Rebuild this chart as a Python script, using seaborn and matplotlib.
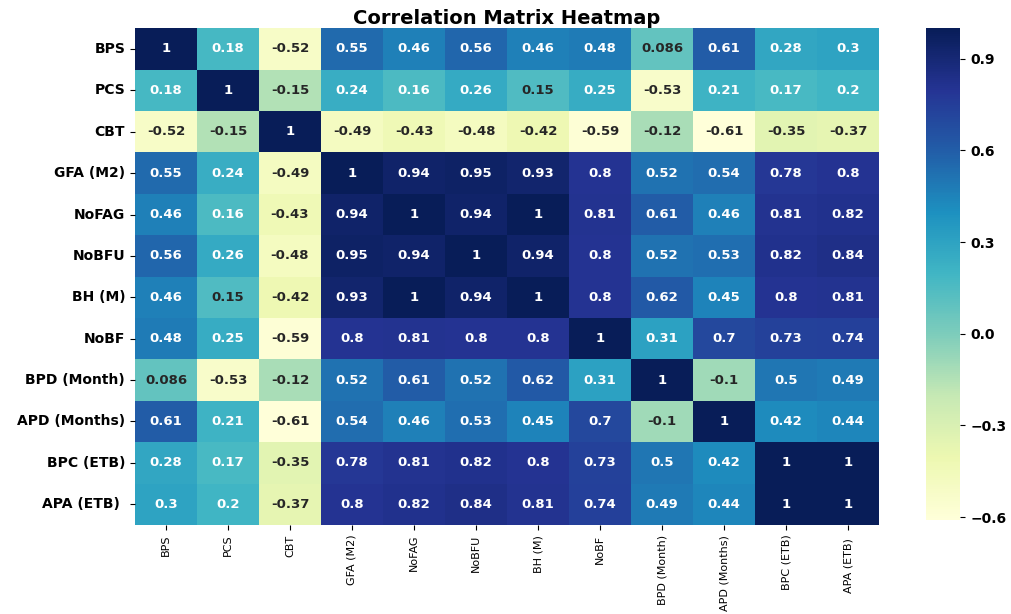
import numpy as np
import pandas as pd
import seaborn as sns
import matplotlib.pyplot as plt
from matplotlib.ticker import MultipleLocator

# Emrat e variablave
labels = ['BPS', 'PCS', 'CBT', 'GFA (M2)', 'NoFAG', 'NoBFU', 'BH (M)', 'NoBF',
          'BPD (Month)', 'APD (Months)', 'BPC (ETB)', 'APA (ETB) ']

# Rreshtat e matricës së korrelacionit
row_bps = [1, 0.18, -0.52, 0.55, 0.46, 0.56, 0.46, 0.48, 0.086, 0.61, 0.28, 0.3]
row_pcs = [0.18, 1, -0.15, 0.24, 0.16, 0.26, 0.15, 0.25, -0.53, 0.21, 0.17, 0.2]
row_cbt = [-0.52, -0.15, 1, -0.49, -0.43, -0.48, -0.42, -0.59, -0.12, -0.61, -0.35, -0.37]
row_gfa = [0.55, 0.24, -0.49, 1, 0.94, 0.95, 0.93, 0.8, 0.52, 0.54, 0.78, 0.8]
row_nofag = [0.46, 0.16, -0.43, 0.94, 1, 0.94, 1, 0.81, 0.61, 0.46, 0.81, 0.82]
row_nobfu = [0.56, 0.26, -0.48, 0.95, 0.94, 1, 0.94, 0.8, 0.52, 0.53, 0.82, 0.84]
row_bh = [0.46, 0.15, -0.42, 0.93, 1, 0.94, 1, 0.8, 0.62, 0.45, 0.8, 0.81]
row_nobf = [0.48, 0.25, -0.59, 0.8, 0.81, 0.8, 0.8, 1, 0.31, 0.7, 0.73, 0.74]
row_bpd = [0.086, -0.53, -0.12, 0.52, 0.61, 0.52, 0.62, 0.31, 1, -0.1, 0.5, 0.49]
row_apd = [0.61, 0.21, -0.61, 0.54, 0.46, 0.53, 0.45, 0.7, -0.1, 1, 0.42, 0.44]
row_bpc = [0.28, 0.17, -0.35, 0.78, 0.81, 0.82, 0.8, 0.73, 0.5, 0.42, 1, 1]
row_apa = [0.3, 0.2, -0.37, 0.8, 0.82, 0.84, 0.81, 0.74, 0.49, 0.44, 1, 1]

rows = [row_bps, row_pcs, row_cbt, row_gfa, row_nofag, row_nobfu,
        row_bh, row_nobf, row_bpd, row_apd, row_bpc, row_apa]
corr = pd.DataFrame(rows, index=labels, columns=labels)

fig = plt.figure(figsize=(10.11, 6.14), dpi=100)
ax = fig.add_axes([0.1335, 0.145, 0.736, 0.809])
cax = fig.add_axes([0.916, 0.153, 0.034, 0.801])

sns.heatmap(corr, annot=True, cmap='YlGnBu', ax=ax, cbar_ax=cax,
            annot_kws={'fontsize': 9.5, 'fontweight': 'semibold'})

ax.set_title('Correlation Matrix Heatmap', fontsize=14, fontweight='semibold', pad=3)
ax.tick_params(axis='y', labelsize=10, rotation=0)
ax.tick_params(axis='x', labelsize=8, rotation=90)
for t in ax.get_yticklabels():
    t.set_fontweight('bold')

cax.yaxis.set_major_locator(MultipleLocator(0.3))
cax.tick_params(labelsize=10)
for t in cax.get_yticklabels():
    t.set_fontweight('bold')

fig.savefig('out.png', dpi=100)
